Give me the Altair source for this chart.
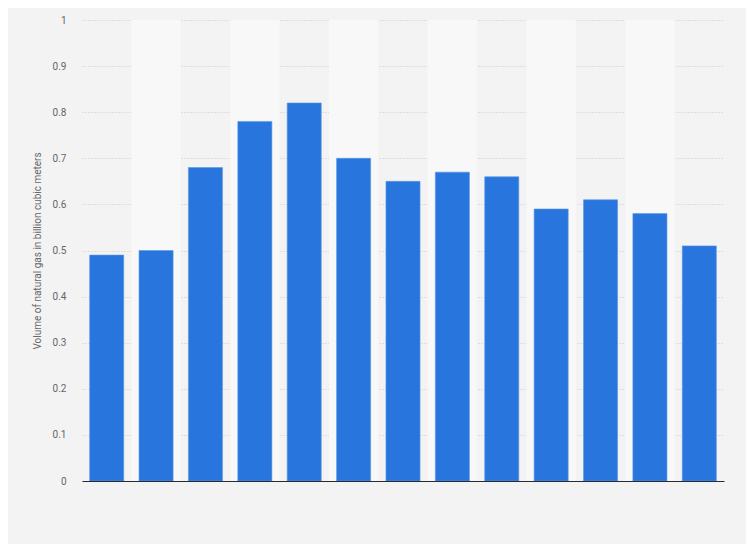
import altair as alt
import pandas as pd

categories = [str(y) for y in range(2008, 2021)]
values = [0.49, 0.50, 0.68, 0.78, 0.82, 0.70, 0.65, 0.67, 0.66, 0.59, 0.61, 0.58, 0.51]

df = pd.DataFrame({"cat": categories, "value": values})
bands = pd.DataFrame({"cat": categories[1::2]})

W, H = 642, 461
xscale = alt.Scale(domain=categories, paddingInner=0, paddingOuter=0)
xaxis = alt.Axis(labels=False, ticks=False, title=None,
                 domainColor="#2a2a2a", domainWidth=1.2, grid=False)

band_layer = alt.Chart(bands).mark_rect(color="#f8f8f8").encode(
    x=alt.X("cat:N", scale=xscale, sort=categories, axis=xaxis),
    y=alt.value(0),
    y2=alt.value(H),
)

bars = alt.Chart(df).mark_bar(
    color="#2876dd", width=alt.RelativeBandSize(0.69),
    stroke="#5b95e6", strokeWidth=0.6
).encode(
    x=alt.X("cat:N", scale=xscale, sort=categories, axis=xaxis),
    y=alt.Y("value:Q", scale=alt.Scale(domain=[0, 1], nice=False),
            axis=alt.Axis(values=[0, 0.1, 0.2, 0.3, 0.4, 0.5, 0.6, 0.7, 0.8, 0.9, 1],
                          labelExpr="datum.value == 0 ? '0' : datum.value == 1 ? '1' : format(datum.value, '.1f')",
                          title="Volume of natural gas in billion cubic meters",
                          titleFont="Roboto", titleFontSize=10, titleFontWeight="normal",
                          titleColor="#666666", titlePadding=10,
                          labelFont="Roboto", labelFontSize=10, labelColor="#666666",
                          labelPadding=16, ticks=False, domain=False,
                          grid=True, gridColor="#c8c8c8", gridDash=[1, 2], gridWidth=1)),
)

chart = alt.layer(band_layer, bars).properties(
    width=W, height=H,
    autosize=alt.AutoSizeParams(type="none"),
    padding={"left": 74, "top": 12, "right": 22, "bottom": 63},
    background="#f3f3f3",
).configure_view(stroke=None)

chart.save("out.html", embed_options={"renderer": "svg", "actions": False})
